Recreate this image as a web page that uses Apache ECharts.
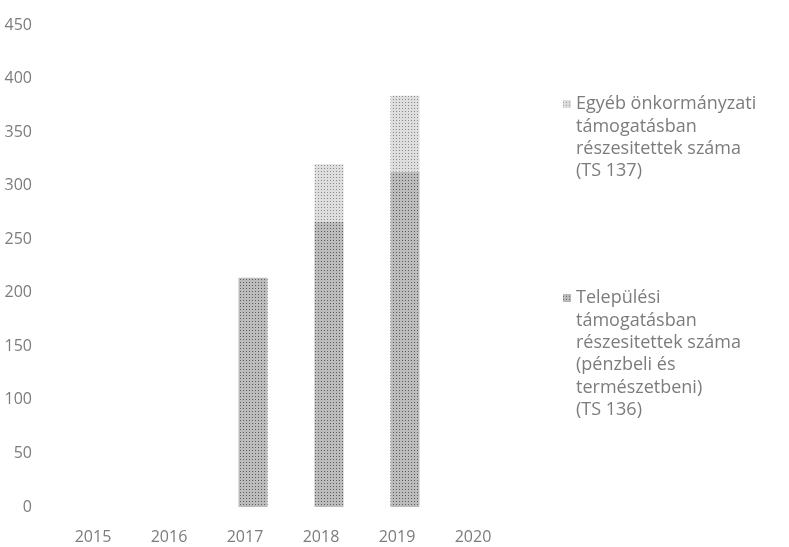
<!DOCTYPE html>
<html>
<head>
<meta charset="utf-8">
<script src="https://cdn.jsdelivr.net/npm/echarts@6/dist/echarts.min.js"></script>
<style>html,body{margin:0;padding:0;background:#fff}#c{width:789px;height:547px}</style>
</head>
<body>
<div id="c"></div>
<script>
var categories = ['2015', '2016', '2017', '2018', '2019', '2020'];
var telepulesi = [null, null, 214, 266, 313, null];
var egyeb = [null, null, null, 54, 71, null];
var yTicks = {min: 0, max: 450, interval: 50};
var nameTelepulesi = 'Települési támogatásban részesitettek száma (pénzbeli és természetbeni) (TS 136)';
var nameEgyeb = 'Egyéb önkormányzati támogatásban részesitettek száma (TS 137)';
var legendTelepulesi = ['Települési', 'támogatásban', 'részesitettek száma', '(pénzbeli és', 'természetbeni)', '(TS 136)'];
var legendEgyeb = ['Egyéb önkormányzati', 'támogatásban', 'részesitettek száma', '(TS 137)'];

var FONT = 'Open Sans';
var TXT = '#7c7c7c';
var LH = 22.4;
var SQ = 8;
function legendFor(name, lines, firstLineY) {
  var h = lines.length * LH;
  var c = LH / 2;
  var icon = 'path://M0,0L0,0Z M0,' + (c - SQ / 2) + 'H' + SQ + 'V' + (c + SQ / 2) + 'H0Z M0,' + h + 'L0,' + h + 'Z';
  return {
    data: [name],
    orient: 'vertical',
    left: 563,
    top: firstLineY - c + 1,
    padding: 0,
    itemWidth: SQ,
    itemHeight: h,
    itemGap: 0,
    icon: icon,
    selectedMode: false,
    formatter: function () { return lines.join('\n'); },
    textStyle: {fontFamily: FONT, fontSize: 18, color: TXT, lineHeight: LH}
  };
}
var chart = echarts.init(document.getElementById('c'), null, {renderer: 'canvas'});
chart.setOption({
  animation: false,
  backgroundColor: '#fff',
  grid: {left: 63, right: 270, top: 25, bottom: 40, containLabel: false},
  legend: [
    legendFor(nameEgyeb, legendEgyeb, 103),
    legendFor(nameTelepulesi, legendTelepulesi, 297)
  ],
  xAxis: {
    type: 'category',
    data: categories,
    axisLine: {show: false},
    axisTick: {show: false},
    axisLabel: {fontFamily: FONT, fontSize: 16, color: TXT, margin: 22, padding: [0, 16, 0, 0]}
  },
  yAxis: {
    type: 'value',
    min: yTicks.min, max: yTicks.max, interval: yTicks.interval,
    splitLine: {show: false},
    axisLine: {show: false},
    axisTick: {show: false},
    axisLabel: {fontFamily: FONT, fontSize: 16, color: TXT, margin: 31}
  },
  series: [
    {name: nameTelepulesi, type: 'bar', stack: 'a', data: telepulesi, barWidth: 29,
     itemStyle: {color: '#bcbcbc',
       decal: {symbol: 'rect', symbolSize: 1, color: '#5e5e5e', dashArrayX: [1, 2], dashArrayY: [1, 2], rotation: 0}}},
    {name: nameEgyeb, type: 'bar', stack: 'a', data: egyeb, barWidth: 29,
     itemStyle: {color: '#dedede',
       decal: {symbol: 'rect', symbolSize: 1, color: '#8c8c8c', dashArrayX: [1, 2], dashArrayY: [1, 2], rotation: 0}}}
  ]
});
</script>
</body>
</html>
